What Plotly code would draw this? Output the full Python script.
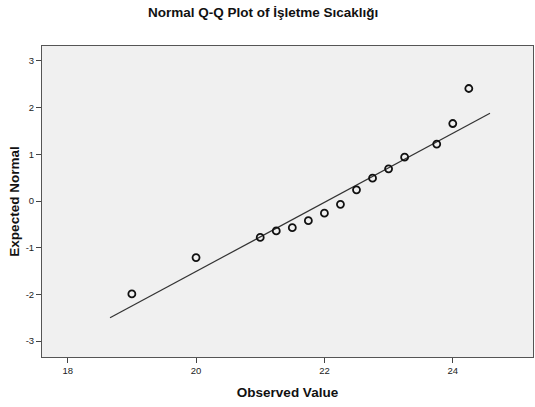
import plotly.graph_objects as go

observed = [19.0, 20.0, 21.0, 21.25, 21.5, 21.75, 22.0, 22.25, 22.5, 22.75, 23.0, 23.25, 23.75, 24.0, 24.25]
expected = [-1.99, -1.21, -0.78, -0.64, -0.57, -0.42, -0.26, -0.07, 0.24, 0.49, 0.69, 0.94, 1.22, 1.66, 2.41]
line_x = [18.66, 24.58]
line_y = [-2.50, 1.88]
x_ticks = [18, 20, 22, 24]
y_ticks = [-3, -2, -1, 0, 1, 2, 3]
y_tick_labels = ["-3", "-2", "-1", "0", "1", "2", "3"]

fig = go.Figure()
fig.add_trace(go.Scatter(x=line_x, y=line_y, mode="lines",
                         line=dict(color="#333333", width=1.2), showlegend=False, hoverinfo="skip"))
fig.add_trace(go.Scatter(x=observed, y=expected, mode="markers",
                         marker=dict(symbol="circle-open", size=7, color="#111111", line=dict(width=1.8, color="#111111")),
                         showlegend=False))

fig.update_layout(
    width=535, height=407,
    margin=dict(l=42, r=2, t=46, b=50),
    paper_bgcolor="white", plot_bgcolor="#f0f0f0",
    font=dict(family="Liberation Sans, Arial, sans-serif", color="#222222"),
    title=dict(text="<b>Normal Q-Q Plot of İşletme Sıcaklığı</b>", x=0.492, xanchor="center",
               y=0.9705, yanchor="middle", font=dict(size=13.5, color="#111111")),
    xaxis=dict(range=[17.6, 25.25], tickvals=x_ticks, showgrid=False, zeroline=False,
               showline=True, mirror=True, linecolor="#555555", linewidth=1,
               ticks="outside", ticklen=5, tickcolor="#444444", tickfont=dict(size=9.5),
               title=dict(text="<b>Observed Value</b>", font=dict(size=13.5, color="#111111"), standoff=12)),
    yaxis=dict(range=[-3.34, 3.32], tickvals=y_ticks, ticktext=y_tick_labels, showgrid=False, zeroline=False,
               showline=True, mirror=True, linecolor="#555555", linewidth=1,
               ticks="outside", ticklen=5, tickcolor="#444444", tickfont=dict(size=9.5),
               title=dict(text="<b>Expected Normal</b>", font=dict(size=13.5, color="#111111"), standoff=2)),
)

fig.write_html("out.html")
